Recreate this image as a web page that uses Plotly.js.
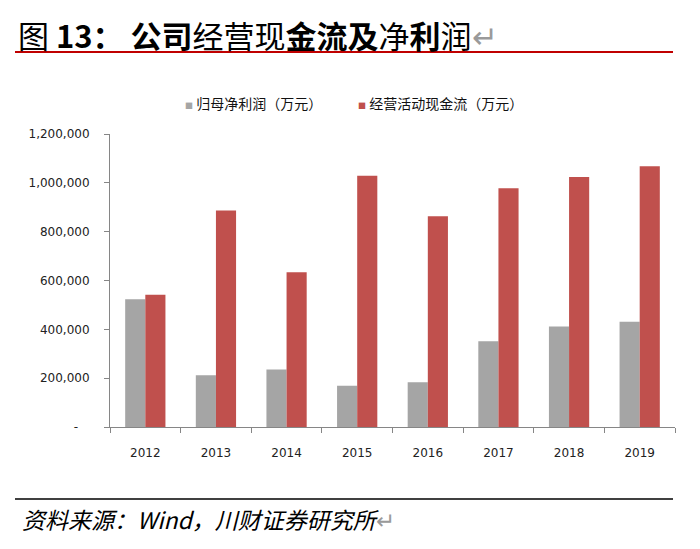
<!DOCTYPE html>
<html>
<head>
<meta charset="utf-8">
<script src="https://cdn.plot.ly/plotly-3.0.1.min.js"></script>
<style>
  body { margin: 0; background: #fff; }
  #chart { width: 700px; height: 549px; }
</style>
</head>
<body>
<div id="chart"></div>
<script>
// data (万元)
var years = ['2012', '2013', '2014', '2015', '2016', '2017', '2018', '2019'];
var netProfit = [523000, 212000, 236000, 169000, 183000, 351000, 412000, 431000];
var operatingCash = [542000, 887000, 634000, 1029000, 863000, 978000, 1024000, 1068000];

var seriesNames = ['归母净利润（万元）', '经营活动现金流（万元）'];
var seriesColors = ['#a5a5a5', '#c0504d'];

var yTickVals = [0, 200000, 400000, 600000, 800000, 1000000, 1200000];
var yTickText = ['-\u00a0\u00a0\u00a0', '200,000', '400,000', '600,000', '800,000', '1,000,000', '1,200,000'];

var titleText = '图 <b>13： 公司</b>经营现<b>金流及</b>净<b>利</b>润<span style="color:#9a9a9a">↵</span>';
var sourceText = '<i>资料来源：Wind，川财证券研究所</i><span style="color:#9a9a9a">↵</span>';

// plot box in pixels, used to turn page positions into paper coords
var L = 110, R = 675, T = 134, B = 427;
function px(x) { return (x - L) / (R - L); }
function py(y) { return (B - y) / (B - T); }

var traces = [netProfit, operatingCash].map(function (vals, i) {
  return {
    type: 'bar',
    x: years,
    y: vals,
    name: seriesNames[i],
    marker: { color: seriesColors[i], line: { width: 0 } },
    showlegend: false,
    hoverinfo: 'x+y'
  };
});

// legend drawn as annotations so the swatches stay small like the original
var legendX = [183, 356];
var legendNotes = seriesNames.map(function (name, i) {
  return {
    xref: 'paper', yref: 'paper',
    x: px(legendX[i]), y: py(103),
    xanchor: 'left', yanchor: 'middle',
    showarrow: false,
    text: '<span style="color:' + seriesColors[i] + ';font-size:8px">■</span> ' + name,
    font: { family: 'Noto Sans CJK SC', size: 14, color: '#111' }
  };
});

var layout = {
  width: 700,
  height: 549,
  margin: { l: L, r: 700 - R, t: T, b: 549 - B, pad: 0 },
  paper_bgcolor: '#fff',
  plot_bgcolor: '#fff',
  font: { family: 'DejaVu Sans', size: 12, color: '#222' },
  barmode: 'group',
  bargap: 0.43,
  bargroupgap: 0,
  xaxis: {
    type: 'category',
    showline: true,
    linecolor: '#868686',
    linewidth: 1,
    ticks: 'outside',
    tickson: 'boundaries',
    ticklen: 5,
    tickcolor: '#868686',
    showgrid: false,
    ticklabelstandoff: 15,
    tickfont: { family: 'DejaVu Sans', size: 12, color: '#222' }
  },
  yaxis: {
    range: [0, 1200000],
    tickvals: yTickVals,
    ticktext: yTickText,
    showline: true,
    linecolor: '#868686',
    linewidth: 1,
    ticks: 'outside',
    ticklen: 5,
    tickcolor: '#868686',
    showgrid: false,
    zeroline: false,
    ticklabelstandoff: 12,
    tickfont: { family: 'DejaVu Sans', size: 12, color: '#222' }
  },
  shapes: [
    { type: 'line', xref: 'paper', yref: 'paper', x0: px(15), x1: px(673), y0: py(52), y1: py(52),
      line: { color: '#c00000', width: 2 } },
    { type: 'line', xref: 'paper', yref: 'paper', x0: px(15), x1: px(673), y0: py(499), y1: py(499),
      line: { color: '#000', width: 1.5 } }
  ],
  annotations: [
    {
      xref: 'paper', yref: 'paper',
      x: px(16), y: py(34),
      xanchor: 'left', yanchor: 'middle',
      showarrow: false,
      text: titleText,
      font: { family: 'Noto Sans CJK SC', size: 31, color: '#000' }
    },
    {
      xref: 'paper', yref: 'paper',
      x: px(20), y: py(519),
      xanchor: 'left', yanchor: 'middle',
      showarrow: false,
      text: sourceText,
      font: { family: 'Noto Sans CJK SC', size: 23, color: '#000' }
    }
  ].concat(legendNotes)
};

Plotly.newPlot('chart', traces, layout, { displayModeBar: false, staticPlot: true });
</script>
</body>
</html>
